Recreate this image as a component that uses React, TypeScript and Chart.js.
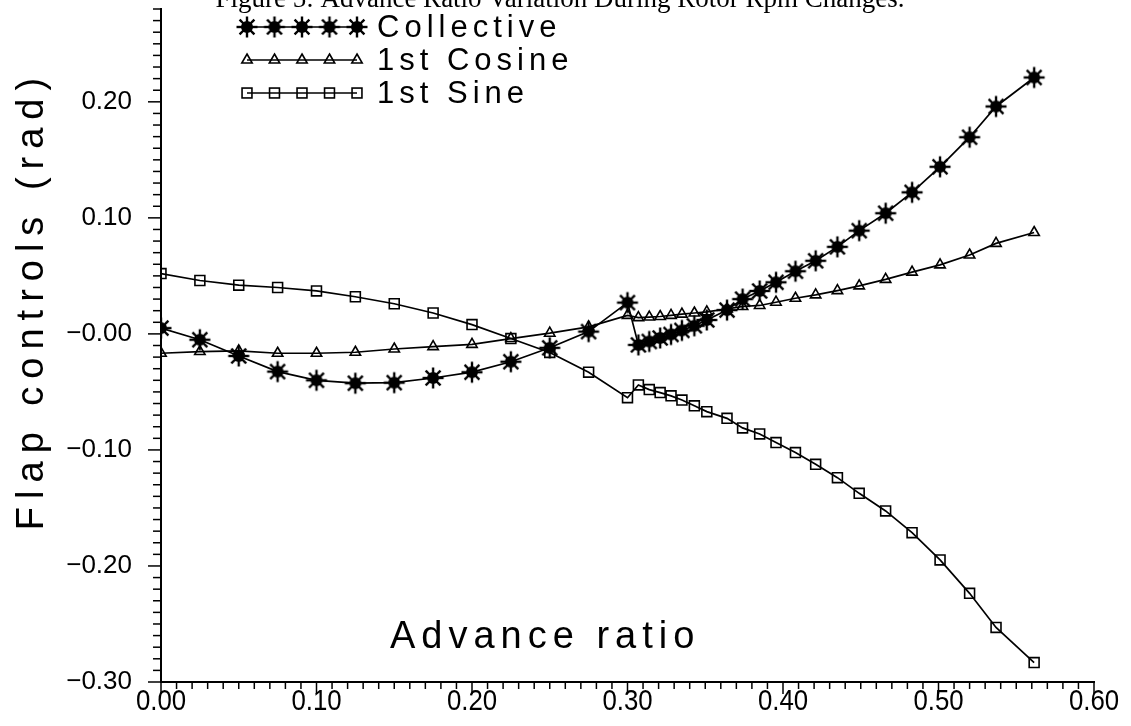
import React, { useEffect, useRef } from 'react';
import { Chart, registerables } from 'chart.js';

Chart.register(...registerables);

// ---- data ----
const advanceRatio = [
  0, 0.025, 0.05, 0.075, 0.1, 0.125, 0.15, 0.175, 0.2, 0.225, 0.25, 0.275, 0.3,
  0.307, 0.314, 0.321, 0.328, 0.335, 0.343, 0.351, 0.364, 0.374, 0.385, 0.3955,
  0.408, 0.421, 0.435, 0.449, 0.466, 0.483, 0.501, 0.52, 0.537, 0.5615,
];
const collective = [
  0.005, -0.005, -0.019, -0.0325, -0.04, -0.0425, -0.042, -0.038, -0.033, -0.024, -0.012, 0.002, 0.027,
  -0.0095, -0.0065, -0.0035, -0.0005, 0.003, 0.007, 0.012, 0.0205, 0.03, 0.037, 0.0445,
  0.054, 0.063, 0.075, 0.089, 0.104, 0.122, 0.144, 0.1695, 0.196, 0.221,
];
const firstCosine = [
  -0.0167, -0.0152, -0.0147, -0.0167, -0.0167, -0.0158, -0.013, -0.011, -0.009, -0.004, 0.0006, 0.006, 0.016,
  0.014, 0.0145, 0.015, 0.016, 0.017, 0.018, 0.019, 0.0215, 0.0236, 0.0245, 0.0273,
  0.0307, 0.0336, 0.0373, 0.0414, 0.047, 0.0532, 0.0595, 0.068, 0.078, 0.0874,
];
const firstSine = [
  0.052, 0.046, 0.042, 0.04, 0.037, 0.032, 0.026, 0.018, 0.008, -0.004, -0.016, -0.033, -0.055,
  -0.044, -0.048, -0.0506, -0.0534, -0.057, -0.062, -0.067, -0.0728, -0.081, -0.0862, -0.0937,
  -0.1023, -0.1124, -0.1239, -0.1374, -0.1526, -0.1713, -0.1948, -0.2236, -0.253, -0.2833,
];
const seriesLabels = ['Collective', '1st Cosine', '1st Sine'];
const xTickValues = [0, 0.1, 0.2, 0.3, 0.4, 0.5, 0.6];
const xTickLabels = ['0.00', '0.10', '0.20', '0.30', '0.40', '0.50', '0.60'];
const yTickValues = [-0.3, -0.2, -0.1, 0, 0.1, 0.2];
const yTickLabels = ['\u22120.30', '\u22120.20', '\u22120.10', '\u22120.00', '0.10', '0.20'];
const titleText = 'Figure 5: Advance Ratio Variation During Rotor Rpm Changes.';
const xAxisTitle = 'Advance ratio';
const yAxisTitle = 'Flap controls (rad)';
const xRange = [0, 0.6];
const yRange = [-0.3, 0.28];

const SANS = "'Liberation Sans', Arial, sans-serif";

function makeStar(): HTMLCanvasElement {
  const c = document.createElement('canvas');
  c.width = 26;
  c.height = 26;
  const g = c.getContext('2d') as CanvasRenderingContext2D;
  g.fillStyle = '#000';
  g.strokeStyle = '#000';
  g.lineWidth = 2.4;
  g.beginPath();
  g.arc(13, 13, 6, 0, Math.PI * 2);
  g.fill();
  for (let k = 0; k < 8; k++) {
    const a = (k * Math.PI) / 4;
    g.beginPath();
    g.moveTo(13, 13);
    g.lineTo(13 + 10.5 * Math.cos(a), 13 + 10.5 * Math.sin(a));
    g.stroke();
  }
  return c;
}

function drawMarker(ctx: CanvasRenderingContext2D, kind: number, x: number, y: number, star: HTMLCanvasElement) {
  ctx.save();
  ctx.strokeStyle = '#000';
  ctx.lineWidth = 1.6;
  if (kind === 0) {
    ctx.drawImage(star, x - star.width / 2, y - star.height / 2);
  } else if (kind === 1) {
    const r = 6;
    ctx.beginPath();
    for (let k = 0; k < 3; k++) {
      const a = (k * 2 * Math.PI) / 3;
      const px = x + Math.sin(a) * r;
      const py = y - Math.cos(a) * r;
      if (k === 0) ctx.moveTo(px, py);
      else ctx.lineTo(px, py);
    }
    ctx.closePath();
    ctx.stroke();
  } else {
    const s = 7 / Math.SQRT2;
    ctx.strokeRect(x - s, y - s, 2 * s, 2 * s);
  }
  ctx.restore();
}

export default function App() {
  const ref = useRef<HTMLCanvasElement | null>(null);

  useEffect(() => {
    if (!ref.current) return;
    const star = makeStar();

    const decor = {
      id: 'decor',
      afterDraw(chart: any) {
        const ctx: CanvasRenderingContext2D = chart.ctx;
        const xs = chart.scales.x;
        const ys = chart.scales.y;
        const area = chart.chartArea;
        ctx.save();
        ctx.strokeStyle = '#000';
        ctx.lineWidth = 1.5;
        // x tick marks (major every 0.1, minor every 0.01)
        for (let i = Math.round(xRange[0] * 100); i <= Math.round(xRange[1] * 100); i++) {
          const px = xs.getPixelForValue(i / 100);
          const len = i % 10 === 0 ? 12 : 7;
          ctx.beginPath();
          ctx.moveTo(px, area.bottom);
          ctx.lineTo(px, area.bottom + len);
          ctx.stroke();
        }
        // y tick marks
        for (let i = Math.round(yRange[0] * 100); i <= Math.round(yRange[1] * 100); i++) {
          const py = ys.getPixelForValue(i / 100);
          const len = i % 10 === 0 ? 13 : 8;
          ctx.beginPath();
          ctx.moveTo(area.left, py);
          ctx.lineTo(area.left - len, py);
          ctx.stroke();
        }

        ctx.fillStyle = '#000';
        // x tick labels, condensed like the plotter font
        ctx.font = `30px ${SANS}`;
        ctx.textAlign = 'center';
        ctx.textBaseline = 'middle';
        xTickValues.forEach((v, i) => {
          const px = xs.getPixelForValue(v);
          ctx.save();
          ctx.translate(px, 702);
          ctx.scale(0.86, 1);
          ctx.fillText(xTickLabels[i], 0, 0);
          ctx.restore();
        });

        // figure caption (cut off at the top of the page)
        ctx.font = "27px 'Liberation Serif', serif";
        ctx.textAlign = 'center';
        ctx.textBaseline = 'alphabetic';
        ctx.fillText(titleText, 560, 7);

        // legend
        const rows = [27, 60, 93];
        (ctx as any).letterSpacing = '5px';
        ctx.font = `31px ${SANS}`;
        ctx.textAlign = 'left';
        ctx.textBaseline = 'middle';
        rows.forEach((ry, k) => {
          ctx.beginPath();
          ctx.lineWidth = 1.6;
          ctx.moveTo(247, ry);
          ctx.lineTo(357, ry);
          ctx.stroke();
          for (let m = 0; m < 5; m++) drawMarker(ctx, k, 247 + m * 27.5, ry, star);
          ctx.fillText(seriesLabels[k], 377, ry + 1);
        });

        // axis titles
        (ctx as any).letterSpacing = '6px';
        ctx.font = `38px ${SANS}`;
        ctx.textAlign = 'left';
        ctx.textBaseline = 'alphabetic';
        ctx.fillText(xAxisTitle, 390, 648);

        (ctx as any).letterSpacing = '8px';
        ctx.save();
        ctx.translate(43, 300);
        ctx.rotate(-Math.PI / 2);
        ctx.textAlign = 'center';
        ctx.fillText(yAxisTitle, 0, 0);
        ctx.restore();

        ctx.restore();
      },
    };

    const toPts = (vals: number[]) => vals.map((v, i) => ({ x: advanceRatio[i], y: v }));

    const chart = new Chart(ref.current, {
      type: 'line',
      data: {
        datasets: [
          {
            label: seriesLabels[0],
            data: toPts(collective),
            borderColor: '#000',
            borderWidth: 1.7,
            pointStyle: star as any,
            pointRadius: 6,
            tension: 0,
          },
          {
            label: seriesLabels[1],
            data: toPts(firstCosine),
            borderColor: '#000',
            borderWidth: 1.7,
            pointStyle: 'triangle',
            pointRadius: 6,
            pointBorderWidth: 1.6,
            pointBorderColor: '#000',
            pointBackgroundColor: 'rgba(0,0,0,0)',
            tension: 0,
          },
          {
            label: seriesLabels[2],
            data: toPts(firstSine),
            borderColor: '#000',
            borderWidth: 1.7,
            pointStyle: 'rect',
            pointRadius: 7,
            pointBorderWidth: 1.6,
            pointBorderColor: '#000',
            pointBackgroundColor: 'rgba(0,0,0,0)',
            tension: 0,
          },
        ],
      },
      options: {
        responsive: false,
        animation: false,
        layout: { padding: { left: 0, right: 37, top: 9, bottom: 0 } },
        plugins: {
          legend: { display: false },
          title: { display: false },
          tooltip: { enabled: false },
        },
        scales: {
          x: {
            type: 'linear',
            min: xRange[0],
            max: xRange[1],
            afterBuildTicks: (s: any) => {
              s.ticks = xTickValues.map((v) => ({ value: v }));
            },
            afterFit: (s: any) => {
              s.height = 44;
              s.paddingLeft = 0;
              s.paddingRight = 0;
            },
            grid: { display: false, drawTicks: false },
            border: { display: true, color: '#000', width: 2 },
            ticks: { display: false },
          },
          y: {
            type: 'linear',
            min: yRange[0],
            max: yRange[1],
            afterBuildTicks: (s: any) => {
              s.ticks = yTickValues.map((v) => ({ value: v }));
            },
            afterFit: (s: any) => {
              s.width = 161;
              s.paddingTop = 0;
              s.paddingBottom = 0;
            },
            grid: { display: false, drawTicks: false },
            border: { display: true, color: '#000', width: 2 },
            ticks: {
              autoSkip: false,
              padding: 29,
              color: '#000',
              font: { family: SANS, size: 26 },
              callback: (_v: any, i: number) => yTickLabels[i],
            },
          },
        },
      },
      plugins: [decor],
    } as any);

    return () => chart.destroy();
  }, []);

  return (
    <div style={{ position: 'fixed', left: 0, top: 0, width: 1131, height: 726, background: '#fff' }}>
      <canvas ref={ref} width={1131} height={726} style={{ display: 'block' }} />
    </div>
  );
}
